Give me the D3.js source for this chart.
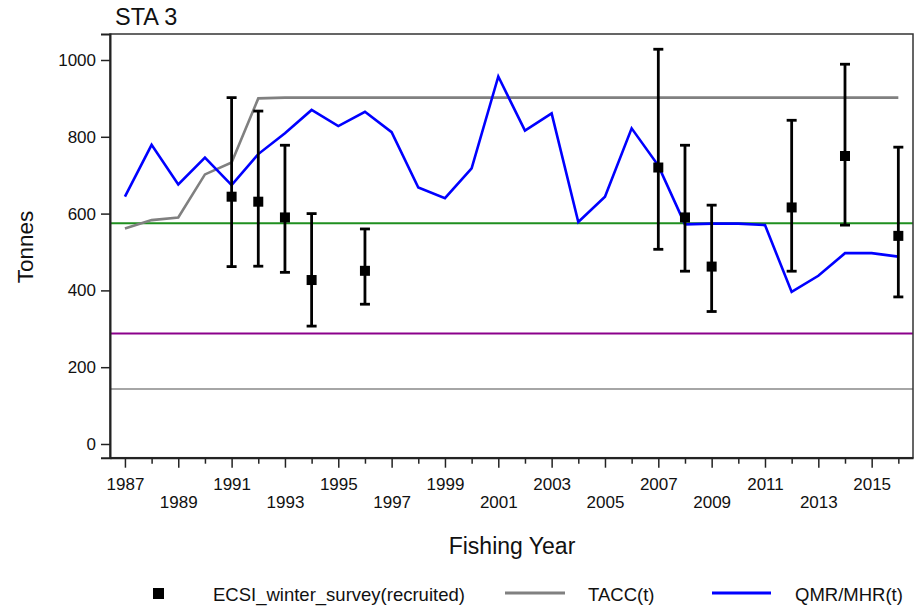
<!DOCTYPE html>
<html>
<head>
<meta charset="utf-8">
<script src="https://cdn.jsdelivr.net/npm/d3@7"></script>
<style>
  body { margin: 0; background: #fff; }
  svg text { font-family: Arial, "Liberation Sans", sans-serif; fill: #111; }
</style>
</head>
<body>
<div id="chart"></div>
<script>
// years and series
var years = d3.range(1987, 2017);
var tacc = [561, 583, 590, 702, 733, 900, 902, 902, 902, 902, 902, 902, 902, 902, 902,
    902, 902, 902, 902, 902, 902, 902, 902, 902, 902, 902, 902, 902, 902, 902];
var qmr = [644, 779, 676, 746, 674, 755, 809, 870, 828, 865, 812, 668, 640, 718, 957,
    816, 861, 578, 644, 822, 725, 572, 574, 574, 570, 396, 438, 497, 497, 488];

var surveyYears = [1991, 1992, 1993, 1994, 1996, 2007, 2008, 2009, 2012, 2014, 2016];
var surveyVal = [644, 631, 590, 427, 451, 720, 590, 462, 616, 750, 542];
var surveyLo = [462, 463, 447, 307, 364, 507, 450, 345, 450, 570, 383];
var surveyHi = [902, 867, 778, 600, 560, 1028, 778, 622, 843, 989, 773];

var refLines = [575, 288, 143];
var refColors = ["#1f8f1f", "#8b008b", "#a6a6a6"];

var yTicks = [0, 200, 400, 600, 800, 1000];

var width = 914, height = 608;

var svg = d3.select("#chart").append("svg")
    .attr("width", width).attr("height", height);

var x = d3.scaleLinear().domain([1986.44, 2016.55]).range([110, 913]);
var y = d3.scaleLinear().domain([-35.7, 1067.7]).range([457.7, 34]);

// reference lines
svg.selectAll(".ref").data(refLines).enter().append("line")
    .attr("x1", 110).attr("x2", 913)
    .attr("y1", d => y(d)).attr("y2", d => y(d))
    .attr("stroke", (d, i) => refColors[i])
    .attr("stroke-width", 2);

var line = d3.line().x((d, i) => x(years[i])).y(d => y(d));

svg.append("path").datum(tacc)
    .attr("d", line).attr("fill", "none")
    .attr("stroke", "#808080").attr("stroke-width", 2.6);

svg.append("path").datum(qmr)
    .attr("d", line).attr("fill", "none")
    .attr("stroke", "#0000ff").attr("stroke-width", 2.6);

// error bars
var bars = svg.selectAll(".bar").data(surveyYears).enter().append("g");
bars.append("line")
    .attr("x1", d => x(d)).attr("x2", d => x(d))
    .attr("y1", (d, i) => y(surveyLo[i])).attr("y2", (d, i) => y(surveyHi[i]))
    .attr("stroke", "#000").attr("stroke-width", 2.8);
bars.append("line")
    .attr("x1", d => x(d) - 5).attr("x2", d => x(d) + 5)
    .attr("y1", (d, i) => y(surveyLo[i])).attr("y2", (d, i) => y(surveyLo[i]))
    .attr("stroke", "#000").attr("stroke-width", 2.8);
bars.append("line")
    .attr("x1", d => x(d) - 5).attr("x2", d => x(d) + 5)
    .attr("y1", (d, i) => y(surveyHi[i])).attr("y2", (d, i) => y(surveyHi[i]))
    .attr("stroke", "#000").attr("stroke-width", 2.8);
bars.append("rect")
    .attr("x", d => x(d) - 5).attr("y", (d, i) => y(surveyVal[i]) - 5)
    .attr("width", 10).attr("height", 10)
    .attr("fill", "#000");

// frame
svg.append("rect")
    .attr("x", 110).attr("y", 34).attr("width", 803).attr("height", 423.7)
    .attr("fill", "none").attr("stroke", "#333").attr("stroke-width", 1.5);

// y axis
var yAxis = svg.append("g")
    .attr("transform", "translate(110,0)")
    .call(d3.axisLeft(y).tickValues(yTicks).tickFormat(d3.format("d")).tickSize(9).tickPadding(5));
yAxis.select(".domain").attr("stroke", "#222").attr("stroke-width", 2);
yAxis.selectAll(".tick line").attr("stroke", "#222").attr("stroke-width", 1.5);
yAxis.selectAll("text").style("font-size", "17px").attr("fill", "#111");

// x axis
var xAxis = svg.append("g")
    .attr("transform", "translate(0,457.7)")
    .call(d3.axisBottom(x).tickValues(years).tickSize(0).tickFormat(""));
xAxis.select(".domain").attr("stroke", "#222").attr("stroke-width", 2);
xAxis.selectAll(".tick line")
    .attr("stroke", "#222").attr("stroke-width", 1.5)
    .attr("y2", d => (d % 2 === 1 ? 10 : 6));
xAxis.selectAll(".tick").filter(d => d % 2 === 1).append("text")
    .attr("y", d => ((d - 1987) % 4 === 0 ? 32.8 : 50))
    .attr("text-anchor", "middle")
    .style("font-size", "17px")
    .attr("fill", "#111")
    .text(d => d);

// titles
svg.append("text").attr("x", 115).attr("y", 25)
    .style("font-size", "23.5px").text("STA 3");
svg.append("text").attr("x", 512).attr("y", 554)
    .attr("text-anchor", "middle").style("font-size", "23px").text("Fishing Year");
svg.append("text")
    .attr("transform", "translate(33,247) rotate(-90)")
    .attr("text-anchor", "middle").style("font-size", "22.5px").text("Tonnes");

// legend
var legY = 593;
svg.append("rect").attr("x", 153).attr("y", legY - 5)
    .attr("width", 11).attr("height", 11).attr("fill", "#000");
svg.append("text").attr("x", 213).attr("y", legY + 7.5)
    .style("font-size", "18.5px").text("ECSI_winter_survey(recruited)");
svg.append("line").attr("x1", 505).attr("x2", 565)
    .attr("y1", legY).attr("y2", legY)
    .attr("stroke", "#808080").attr("stroke-width", 3);
svg.append("text").attr("x", 588).attr("y", legY + 7.5)
    .style("font-size", "18.5px").text("TACC(t)");
svg.append("line").attr("x1", 712).attr("x2", 771)
    .attr("y1", legY).attr("y2", legY)
    .attr("stroke", "#0000ff").attr("stroke-width", 3);
svg.append("text").attr("x", 795).attr("y", legY + 7.5)
    .style("font-size", "18.5px").text("QMR/MHR(t)");
</script>
</body>
</html>
